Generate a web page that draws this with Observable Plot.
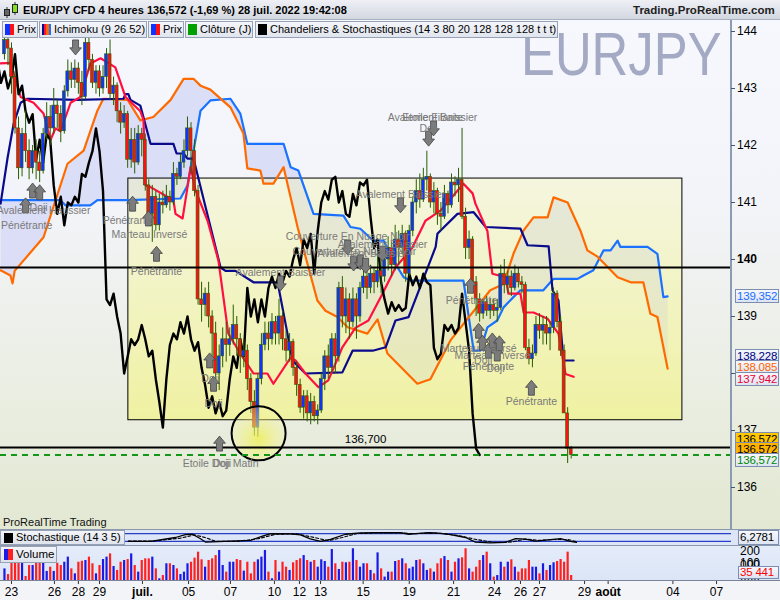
<!DOCTYPE html>
<html><head><meta charset="utf-8">
<script src="https://cdn.jsdelivr.net/npm/d3@7"></script>
<script src="https://cdn.jsdelivr.net/npm/@observablehq/plot@0.6"></script>
<style>
html,body{margin:0;padding:0;background:#fff}
#root{position:relative;width:780px;height:600px;overflow:hidden;font-family:"Liberation Sans",Arial,sans-serif;font-size:12px;color:#000}
.a{position:absolute}
.leg{position:absolute;top:21px;height:17px;border:1px solid #98a2b6;background:linear-gradient(#f4f6fa,#e1e5ee);font-size:11px;line-height:15px;padding:0 1px 0 2px;white-space:nowrap;box-sizing:border-box}
.ic{display:inline-block;width:9px;height:11px;vertical-align:-2px;margin-right:3px}
.vb{position:absolute;left:735px;width:44px;height:14px;box-sizing:border-box;border:1px solid #7d8db0;background:linear-gradient(#f6f8fd,#dde4f2);font-size:11.5px;line-height:12px;padding-left:1px;white-space:nowrap;overflow:hidden;letter-spacing:-0.2px}
.tk{position:absolute;left:737px;font-size:12px;line-height:14px;white-space:nowrap}
.tm{position:absolute;left:731px;width:4px;height:1px;background:#44557a}
</style></head>
<body><div id="root"></div>
<script>
// ---------------- DATA ----------------
const firstBar = -2; // bar index of first visible 4h candle (23 June = bar 0)
const candleOpen = [143.6,143.85,143.7,143.2,142.3,141.6,142.2,141.9,141.6,141.9,141.7,141.55,142.2,142.5,142.3,142.7,142.55,142.25,142.95,143.3,143.15,143.35,143.1,142.85,143.8,143.5,143.1,143.3,143.0,143.2,143.6,142.9,143.05,142.6,142.4,142.55,141.75,142.1,141.7,142.2,142.1,141.3,140.8,141.1,140.6,141.0,140.95,141.1,141.0,141.5,141.45,141.7,141.9,142.3,141.9,141.2,139.3,139.2,139.4,139.0,138.7,138.0,138.3,138.6,138.5,138.6,138.85,138.6,138.3,138.4,137.9,137.5,137.05,137.9,138.5,138.7,138.6,138.9,138.7,139.0,138.6,138.4,138.55,138.1,137.8,137.4,137.6,137.3,137.5,137.25,137.35,137.9,138.3,138.1,138.6,138.3,139.5,139.0,139.3,138.9,139.3,139.0,139.5,139.7,139.5,139.75,139.6,139.8,139.7,140.0,140.2,139.9,140.35,140.2,140.45,139.75,140.5,141.0,141.2,141.05,141.4,141.45,141.0,141.2,140.8,140.75,141.15,140.95,141.35,141.3,141.4,140.75,140.2,140.35,139.6,139.3,139.05,139.25,139.1,139.2,139.1,139.15,139.75,139.55,139.7,139.5,139.75,139.6,139.55,138.45,138.25,138.35,138.85,138.75,138.85,138.7,138.8,139.4,138.9,138.4,137.3,136.68];
const candleHigh = [144.0,144.1,143.8,143.3,142.5,142.3,142.6,142.1,142.0,142.1,141.9,142.3,142.75,142.7,143.0,142.8,142.7,143.05,143.5,143.45,143.5,143.45,143.3,143.9,143.95,143.6,143.4,143.4,143.4,143.7,143.85,143.2,143.1,142.75,142.7,142.6,142.3,142.3,142.35,142.3,142.2,141.4,141.3,141.2,141.15,141.2,141.3,141.2,141.7,141.6,141.85,142.1,142.5,142.4,142.1,141.3,139.6,139.5,139.6,139.1,138.9,138.5,138.8,138.9,138.8,139.2,139.0,138.7,138.6,138.5,138.0,137.7,138.0,138.7,138.9,138.9,139.05,139.0,139.3,139.1,138.75,138.7,138.6,138.2,137.9,137.7,137.7,137.65,137.6,137.45,138.0,138.4,138.5,138.7,138.7,139.6,139.7,139.5,139.4,139.5,139.4,139.6,139.85,139.8,139.9,139.85,140.1,140.0,140.2,140.4,140.3,140.6,140.5,140.6,140.5,140.6,141.1,141.4,141.5,141.6,141.9,141.5,141.35,141.25,141.0,141.3,141.2,141.5,141.45,141.6,142.3,140.9,140.5,140.4,139.7,139.4,139.3,139.35,139.3,139.3,139.3,139.9,140.0,139.8,139.8,139.9,139.85,139.7,139.6,138.6,138.5,139.0,139.05,139.0,139.0,138.9,139.5,139.45,139.0,138.5,137.4,136.72];
const candleLow = [143.5,143.4,142.9,142.2,141.4,141.45,141.7,141.4,141.5,141.4,141.35,141.5,142.1,142.0,142.2,142.3,142.05,142.2,142.85,143.0,143.0,142.9,142.7,142.8,143.3,143.0,142.9,142.85,142.9,143.0,142.8,142.7,142.4,142.2,142.3,141.6,141.6,141.5,141.65,141.8,141.2,140.6,140.3,140.5,140.5,140.8,140.9,140.85,140.95,141.3,141.4,141.6,141.8,141.5,141.1,139.2,138.9,139.0,138.8,138.3,137.8,137.7,138.1,138.2,138.3,138.5,138.3,138.0,138.1,137.7,137.3,136.9,136.88,137.8,138.4,138.4,138.5,138.5,138.5,138.4,138.2,138.2,137.95,137.6,137.3,137.2,137.15,137.1,137.15,137.1,137.3,137.7,137.9,138.0,138.0,138.2,138.8,138.7,138.6,138.8,138.6,138.9,139.4,139.3,139.4,139.4,139.5,139.4,139.6,139.8,139.7,139.8,139.9,140.1,139.6,139.7,140.4,140.8,140.9,141.0,141.2,140.9,140.8,140.6,140.5,140.7,140.8,140.9,141.1,141.0,140.7,140.0,140.0,139.4,139.0,138.9,138.95,139.0,138.95,139.0,138.9,139.1,139.4,139.4,139.35,139.45,139.5,139.4,138.4,138.15,138.1,138.3,138.6,138.5,138.5,138.4,138.7,138.8,138.3,137.3,136.42,136.5];
const candleClose = [143.85,143.7,143.2,142.3,141.6,142.2,141.9,141.6,141.9,141.7,141.55,142.2,142.5,142.3,142.7,142.55,142.25,142.95,143.3,143.15,143.35,143.1,142.85,143.8,143.5,143.1,143.3,143.0,143.2,143.6,142.9,143.05,142.6,142.4,142.55,141.75,142.1,141.7,142.2,142.1,141.3,140.8,141.1,140.6,141.0,140.95,141.1,141.0,141.5,141.45,141.7,141.9,142.3,141.9,141.2,139.3,139.2,139.4,139.0,138.7,138.0,138.3,138.6,138.5,138.6,138.85,138.6,138.3,138.4,137.9,137.5,137.05,137.9,138.5,138.7,138.6,138.9,138.7,139.0,138.6,138.4,138.55,138.1,137.8,137.4,137.6,137.3,137.5,137.25,137.35,137.9,138.3,138.1,138.6,138.3,139.5,139.0,139.3,138.9,139.3,139.0,139.5,139.7,139.5,139.75,139.6,139.8,139.7,140.0,140.2,139.9,140.35,140.2,140.45,139.75,140.5,141.0,141.2,141.05,141.4,141.45,141.0,141.2,140.8,140.75,141.15,140.95,141.35,141.3,141.4,140.75,140.2,140.35,139.6,139.3,139.05,139.25,139.1,139.2,139.1,139.15,139.75,139.55,139.7,139.5,139.75,139.6,139.55,138.45,138.25,138.35,138.85,138.75,138.85,138.7,138.8,139.4,138.9,138.4,137.3,136.68,136.572];
const volumeK = [82,42,188,134,188,129,28,106,106,129,188,125,64,94,64,122,106,129,165,82,47,129,136,141,165,118,47,106,148,165,188,99,71,129,141,148,188,106,59,141,153,153,165,82,12,35,118,118,106,82,42,59,118,129,158,200,146,94,141,153,176,212,106,59,129,129,148,141,66,129,47,129,146,165,212,59,12,141,59,129,94,71,125,141,153,176,141,129,141,94,146,134,94,219,118,78,129,125,129,224,141,94,118,118,71,47,195,82,24,59,59,134,141,153,118,82,94,141,146,118,71,82,59,118,153,169,141,59,129,153,160,224,82,59,94,141,176,200,118,24,35,129,94,129,146,94,59,82,82,141,94,94,47,118,71,106,125,134,148,129,200,35.441];

// Ichimoku (9 26 52) read at bar indexes
const tenkanBar = [-3.1,-0.3,2.6,6.25,9.1,11.1,12.5,13.9,16.8,19.6,22.4,25.3,29.5,32.4,36.6,37.5,38.1,39.5,46,46.6,48.6,50.9,52.3,55.7,58.8,61.6,65,68.75,72.7,74.4,79.3,80.7,83.5,87.2,90,94,97.7,101.4,105.4,109.1,113.9,117.6,120.5,121.9,128.4,131,131.8,135.2,136.6,140.3,141.2,144.6,145.5,148.3,152.3,155.4,157.4,159.7];
const tenkanVal = [143.44,143.45,142.85,142.75,142.56,142.1,142.3,142.25,142.75,142.85,143.44,143.53,143.37,142.85,142.6,142.45,141.3,141.27,141.04,140.8,140.72,141.62,141.21,140.68,139.98,138.7,138.35,138.0,138.0,137.82,138.28,138.23,138.0,137.76,137.88,138.46,138.8,138.93,139.4,139.86,140.21,140.68,140.8,140.86,141.33,141.16,140.98,140.5,139.75,139.69,139.4,139.4,139.07,139.07,138.96,138.7,137.99,137.942];
const kijunBar = [-3.1,-1.1,0.6,2.6,4.5,18.75,31.8,32.4,33.2,33.8,36.6,39.5,46,46.9,48.9,50,51.7,59.4,60.8,63.6,68.75,75.6,78.4,79.8,83.5,94,96.9,102.6,106.3,109.1,112.8,120.5,121,121.9,126.7,131.3,134.7,144.6,146.6,152.6,153.7,155.4,156.8,159.7];
const kijunVal = [140.98,141.79,142.38,142.75,142.82,142.8,142.82,142.9,142.9,142.8,142.7,142.03,142.03,141.86,141.86,141.77,141.77,139.86,139.8,139.8,139.6,139.6,138.7,138.23,138.0,138.02,138.4,138.4,138.46,138.93,138.99,140.22,140.45,140.51,140.8,140.83,140.57,140.54,140.25,140.23,139.46,139.28,138.23,138.228];
const spanABar = [-3.1,-0.3,0.3,0.9,9.1,15.9,20.5,24.4,26.1,33,36.6,40.3,45.2,48.9,51.7,53.7,56.5,62.2,65.9,67,70.7,71.6,74.4,77.3,81.3,86.9,89.2,92.6,95.5,101.1,104,106.8,115.3,119,124.7,136,139.8,142.6,145.5,148.3,152.3,154,158,161.6,163.6,166.5,172.2,175.9,179.5,181.5,183.5,186.4];
const spanAVal = [139.81,139.72,139.58,139.8,140.39,141.68,141.91,142.61,142.82,142.8,142.44,142.5,142.8,143.17,143.17,143.05,142.98,142.67,142.21,141.6,141.56,141.33,141.33,141.62,140.56,139.28,139.1,138.99,138.81,138.7,138.95,138.35,137.82,137.9,138.58,139.46,139.57,140.1,140.51,140.74,140.74,141.09,141.0,140.51,140.16,140.05,139.69,139.6,139.6,139.05,138.99,138.085];
const spanBBar = [-3.1,13.9,15.3,22.4,24.4,33,48,50,53.7,56.5,62.2,65,67,77.3,79.3,81.5,85.8,94.3,96.3,99.1,102.8,105.7,109.7,111.4,113.4,128.4,131.3,133.2,135.2,138,139.8,142.6,144.6,151.1,153.1,154,160.8,162.5,165.3,168.2,170.2,172.2,173,180.7,183.5,185.2,186.4];
const spanBVal = [141.04,141.04,140.95,140.95,141.04,141.04,141.07,141.3,142.61,142.79,142.82,142.56,142.03,142.03,141.62,141.56,140.8,140.77,140.57,140.54,140.33,140.33,139.86,139.69,139.63,139.63,138.4,138.4,138.81,138.93,139.16,139.34,139.46,139.46,139.6,139.66,139.66,139.72,139.81,140.16,140.16,140.33,140.22,140.22,140.1,139.34,139.352];
const chikouShift = 26;

// Stochastique (14 3 5)
const stochBars = [33.2,39.5,46.6,49.4,51.4,53.7,55.1,62.2,67.9,71.3,73.6,79.3,82.1,84.9,87.8,90.6,94.9,99.1,103.4,110.5,112.8,114.8,118.5,120.5,124.7,129,131.8,136,140.3,143.2,146,148.9,151.7,156,158.8,160.5];
const stochK = [20,20,50,72,75,40,15,22,28,60,80,78,70,40,20,35,75,85,88,88,75,80,88,85,72,50,15,8,12,42,38,22,30,42,20,12];
const stochDBars = [33.2,40,48,52,55,58,64,70,75,81,86,90,94,98,104,111,114,118,122,127,132,137,142,146,150,154,158,160.5];
const stochD = [22,22,45,70,50,20,20,40,75,78,50,25,50,80,85,85,78,84,82,65,35,12,15,38,28,35,35,18];
const stochLevels = [80, 20];
const stochLast = "6,2781";

// Candlestick pattern annotations
const patternNames = ["Avalement Haussier","Doji","Pénétrante","Pénétrante","Marteau Inversé","Pénétrante","Doji","Doji","Etoile Doji Matin","Doji","Avalement Baissier","Couverture En Nuage Noir","Avalement Baissier","Couverture En Nuage Noir","Avalement Baissier","Avalement Baissier","Avalement Baissier","Etoile Filante","Doji","Pénétrante","Marteau Inversé","Marteau Inversé","Doji","Pénétrante","Doji","Pénétrante"];
const patternBars = [9.1,7.7,4.3,33.2,39.2,41.2,56.5,57.4,59.4,59.8,76.4,95.5,105.4,97.4,99.7,110.5,119.6,119.6,118.5,130.7,132.7,136.6,134,135.5,137.5,147.7];
const patternPrices = [140.86,140.91,140.6,140.68,140.44,139.79,137.91,137.47,136.42,136.42,139.77,140.4,140.26,140.14,140.1,141.14,142.49,142.49,142.3,139.28,138.44,138.32,138.23,138.12,138.09,137.51];
const arrowUpBars = [6,8,4,34.4,38.9,41.2,56.3,57.4,59.1,130.4,132.7,133.8,135.5,136.6,138,138.6,147.7];
const arrowUpPrices = [141.21,141.18,140.95,140.98,140.72,140.1,138.23,137.82,136.77,139.54,138.75,138.54,138.4,138.58,138.35,138.53,137.75];
const arrowDownBars = [18.2,76.4,95.5,97.2,99.1,100.6,105.4,110.5,118.5,119.9];
const arrowDownPrices = [143.72,139.58,140.21,139.93,139.95,139.89,140.1,140.95,142.12,142.3];

// Drawings & levels
const zoneBars = [33.2, 190.6];
const zonePrices = [137.18, 141.42];
const circleBar = 70.2, circlePrice = 136.95;
const resistanceLevel = 139.86;
const supportLevel = 136.7;
const dailyClose = 136.572;

// Axis labels
const priceTicks = [144,143,142,141,140,139,138,137,136];
const xTickLabels = ["23","26","28","29","juil.","05","07","10","12","13","15","19","21","24","26","27","29","août","04","07"];
const xTickBars = [0,12.2,19,25,37.2,50.3,62.2,74.7,81.8,87.8,99.9,113,125.6,137.2,144.6,150,162.8,169.5,187.9,200.3];
const xBoldLabels = ["juil.","août"];
const lastValues = [139.352,138.228,138.085,137.942,136.572,136.572,136.572];
const lastColors = ["#1a6cff","#000080","#ff6600","#ee0033","#000","#000","#008800"];

// ---------------- BUILD ----------------
const root = document.getElementById("root");
function div(cls, css, html){const d=document.createElement("div");if(cls)d.className=cls;d.style.cssText=css;if(html!=null)d.innerHTML=html;root.appendChild(d);return d;}
const zip = (xs, ys) => xs.map((x,k)=>({x, y: ys[k]}));
const bars = candleOpen.map((o,k)=>({i: firstBar+k, o, h: candleHigh[k], l: candleLow[k], c: candleClose[k], v: volumeK[k]}));
const up = d => d.c >= d.o;
const fmtP = v => d3.format(".3f")(v).replace(".", ",");
const xDom = [-3.125, 204.55];
const FONT = "Liberation Sans, Arial, sans-serif";

// backgrounds
div("a","left:0;top:20px;width:780px;height:509px;background:linear-gradient(#f6f8fe 0%,#f2f4f9 35%,#ebeee3 72%,#e2e8d2 100%)");
div("a","left:521px;top:23px;font-size:62px;line-height:62px;color:#a4a9c4;transform:scaleX(0.82);transform-origin:0 0;white-space:nowrap","EURJPY");

const spanA = zip(spanABar, spanAVal), spanB = zip(spanBBar, spanBVal);
const cloudPoly = spanA.concat(spanB.slice().reverse());

const upArrow = {draw(ctx, size){const s=Math.sqrt(size/Math.PI);ctx.moveTo(0,-s);ctx.lineTo(0.78*s,-0.05*s);ctx.lineTo(0.4*s,-0.05*s);ctx.lineTo(0.4*s,s);ctx.lineTo(-0.4*s,s);ctx.lineTo(-0.4*s,-0.05*s);ctx.lineTo(-0.78*s,-0.05*s);ctx.closePath();}};
const downArrow = {draw(ctx, size){const s=Math.sqrt(size/Math.PI);ctx.moveTo(0,s);ctx.lineTo(0.78*s,0.05*s);ctx.lineTo(0.4*s,0.05*s);ctx.lineTo(0.4*s,-s);ctx.lineTo(-0.4*s,-s);ctx.lineTo(-0.4*s,0.05*s);ctx.lineTo(-0.78*s,0.05*s);ctx.closePath();}};

const patterns = patternNames.map((t,k)=>({t, x: patternBars[k], y: patternPrices[k]}));
const ups = zip(arrowUpBars, arrowUpPrices), downs = zip(arrowDownBars, arrowDownPrices);

const price = Plot.plot({
  width: 780, height: 509, marginLeft: 0, marginRight: 49, marginTop: 0, marginBottom: 0,
  x: {domain: xDom, axis: null},
  y: {domain: [135.263, 144.193], axis: null},
  color: {type: "identity"},
  style: {background: "transparent", fontFamily: FONT},
  marks: [
    Plot.line(cloudPoly, {x: "x", y: "y", fill: "#d8dbf6", fillOpacity: 0.9, stroke: "none"}),
    Plot.rect([0], {x1: () => zoneBars[0], x2: () => zoneBars[1], y1: () => zonePrices[0], y2: () => zonePrices[1], fill: "url(#boxGrad)", stroke: "#000", strokeWidth: 1}),
    Plot.line(spanB, {x: "x", y: "y", stroke: "#1a72ff", strokeWidth: 2.2}),
    Plot.line(spanA, {x: "x", y: "y", stroke: "#ff6a00", strokeWidth: 2.2}),
    Plot.line(zip(kijunBar, kijunVal), {x: "x", y: "y", stroke: "#0a0a8c", strokeWidth: 2.2}),
    Plot.line(zip(tenkanBar, tenkanVal), {x: "x", y: "y", stroke: "#ff1040", strokeWidth: 2.2}),
    Plot.line(bars.filter(d => d.i - chikouShift >= -4), {x: d => d.i - chikouShift, y: "c", stroke: "#000", strokeWidth: 2.4, clip: true}),
    Plot.ruleX(bars, {x: "i", y1: "l", y2: "h", stroke: "#2b5e00", strokeWidth: 1}),
    Plot.rect(bars, {x1: d => d.i - 0.42, x2: d => d.i + 0.42, y1: d => Math.min(d.o, d.c), y2: d => Math.max(d.o, d.c), fill: d => up(d) ? "#1133ff" : "#ff1111", stroke: "#2b5e00", strokeWidth: 0.6}),
    Plot.dot([0], {x: () => circleBar, y: () => circlePrice, r: 27, fill: "url(#circGrad)", stroke: "#000", strokeWidth: 2}),
    Plot.ruleY([resistanceLevel], {stroke: "#000", strokeWidth: 2}),
    Plot.ruleY([supportLevel], {stroke: "#000", strokeWidth: 2}),
    Plot.ruleY([dailyClose], {stroke: "#169616", strokeWidth: 2, strokeDasharray: "6,5"}),
    Plot.text([supportLevel], {x: () => 100.6, y: d => d, text: d => fmtP(d), dy: -8, fontSize: 11.5, fill: "#000"}),
    Plot.dot(ups, {x: "x", y: "y", symbol: upArrow, r: 7.5, fill: "#7c7c7c", stroke: "#444", strokeWidth: 0.8}),
    Plot.dot(downs, {x: "x", y: "y", symbol: downArrow, r: 7.5, fill: "#7c7c7c", stroke: "#444", strokeWidth: 0.8}),
    Plot.text(patterns, {x: "x", y: "y", text: "t", fill: "#7a7a7a", fontSize: 10.5})
  ]
});
const priceSvg = price.tagName.toLowerCase() === "svg" ? price : price.querySelector("svg");
{
  const defs = d3.select(priceSvg).insert("defs", ":first-child");
  const g = defs.append("linearGradient").attr("id", "boxGrad").attr("x1", 0).attr("y1", 0).attr("x2", 0).attr("y2", 1);
  g.append("stop").attr("offset", "0%").attr("stop-color", "rgb(248,248,170)").attr("stop-opacity", 0.35);
  g.append("stop").attr("offset", "100%").attr("stop-color", "rgb(246,246,100)").attr("stop-opacity", 0.5);
  const r = defs.append("radialGradient").attr("id", "circGrad").attr("cx", "50%").attr("cy", "60%").attr("r", "55%");
  r.append("stop").attr("offset", "0%").attr("stop-color", "rgb(240,240,70)").attr("stop-opacity", 0.75);
  r.append("stop").attr("offset", "100%").attr("stop-color", "rgb(245,245,170)").attr("stop-opacity", 0.3);
}
price.style.position = "absolute"; price.style.left = "0px"; price.style.top = "20px";
root.appendChild(price);

// right price axis (HTML from the plot's y scale)
const ys = price.scale("y"); const yF = d3.scaleLinear(ys.domain, ys.range);
div("a","left:730px;top:20px;width:2px;height:560px;background:#8b9bb3");
priceTicks.forEach(v => {
  const y = 20 + yF(v);
  div("tm", `top:${y}px`);
  div("tk", `top:${y - 7}px;${v === 140 ? "font-weight:bold" : ""}`, String(v));
});
const boxShift = [0, -4, -1, 3, -15, -5, 6];
lastValues.forEach((v, k) => {
  const cy = 20 + yF(v) + boxShift[k];
  const bg = k === 4 ? "background:#ffc800;" : k === 5 ? "background:#ffb400;" : "";
  div("vb", `top:${cy - 7}px;color:${lastColors[k]};${bg}`, fmtP(v));
});
div("a","left:3px;top:516px;font-size:11px;color:#111","ProRealTime Trading");

// stochastic panel
div("a","left:0;top:529px;width:780px;height:16px;background:#dde6f7;border-top:1px solid #8c98ae;box-sizing:border-box");
const stoch = Plot.plot({
  width: 780, height: 16, marginLeft: 0, marginRight: 49, marginTop: 1.5, marginBottom: 1.5,
  x: {domain: xDom, axis: null}, y: {domain: [0, 100], axis: null},
  style: {background: "transparent"},
  marks: [
    Plot.ruleY(stochLevels, {stroke: "#2a3fc8", strokeWidth: 1.3}),
    Plot.line(zip(stochDBars, stochD), {x: "x", y: "y", stroke: "#000", strokeWidth: 1.1, strokeDasharray: "3,2"}),
    Plot.line(zip(stochBars, stochK), {x: "x", y: "y", stroke: "#000", strokeWidth: 1.3})
  ]
});
stoch.style.position = "absolute"; stoch.style.left = "0px"; stoch.style.top = "529px";
root.appendChild(stoch);
div("a","left:0;top:530px;width:125px;height:15px;border:1px solid #98a2b6;box-sizing:border-box;background:linear-gradient(#f3f5f9,#dfe3ec);font-size:11px;line-height:13px;padding-left:3px;white-space:nowrap",'<span class="ic" style="background:#000;height:10px"></span>Stochastique (14 3 5)');
div("vb","left:738px;width:41px;top:530px;height:15px;line-height:13px", stochLast);

// volume panel
div("a","left:0;top:545px;width:780px;height:35px;background:linear-gradient(#e4ecfa,#dce5f6);border-top:1px solid #8c98ae;box-sizing:border-box");
const vol = Plot.plot({
  width: 780, height: 34, marginLeft: 0, marginRight: 49, marginTop: 0, marginBottom: 0,
  x: {domain: xDom, axis: null}, y: {domain: [0, 240], axis: null},
  color: {type: "identity"},
  style: {background: "transparent"},
  marks: [
    Plot.ruleX(bars, {x: "i", y1: 0, y2: "v", stroke: d => up(d) ? "#1a1ae6" : "#ff2020", strokeWidth: 2.2})
  ]
});
vol.style.position = "absolute"; vol.style.left = "0px"; vol.style.top = "546px";
root.appendChild(vol);
div("a","left:0;top:546px;width:57px;height:17px;border:1px solid #98a2b6;box-sizing:border-box;background:linear-gradient(#f3f5f9,#dfe3ec);font-size:11.5px;line-height:15px;padding-left:3px;white-space:nowrap",'<span class="ic" style="background:linear-gradient(90deg,#1a1ae6 50%,#ff2020 50%)"></span>Volume');
div("a","left:740px;top:544px;font-size:12px;line-height:14px","200 000");
div("a","left:740px;top:556px;font-size:12px;line-height:14px","100 000");
const lastVol = volumeK[volumeK.length - 1] * 1000;
div("vb",`left:738px;width:41px;top:566px;height:13px;line-height:11px;color:#ff0000`, d3.format(",.0f")(lastVol).replace(/,/g, " "));

// x axis
div("a","left:0;top:580px;width:780px;height:20px;background:#f3f4f7;border-top:1px solid #7a8499;box-sizing:border-box");
const xticks = xTickLabels.map((t,k)=>({t, x: xTickBars[k]}));
const xax = Plot.plot({
  width: 780, height: 19, marginLeft: 0, marginRight: 49, marginTop: 0, marginBottom: 0,
  x: {domain: xDom, axis: null}, y: {domain: [0, 1], axis: null},
  style: {background: "transparent", fontFamily: FONT},
  marks: [
    Plot.ruleX(xticks, {x: "x", y1: 1, y2: 0.84, stroke: "#333", strokeWidth: 1}),
    Plot.text(xticks.filter(d => !xBoldLabels.includes(d.t)), {x: "x", text: "t", fontSize: 12, fill: "#000", dy: 1}),
    Plot.text(xticks.filter(d => xBoldLabels.includes(d.t)), {x: "x", text: "t", fontSize: 12, fontWeight: "bold", fill: "#000", dy: 1})
  ]
});
xax.style.position = "absolute"; xax.style.left = "0px"; xax.style.top = "581px";
root.appendChild(xax);

// header
div("a","left:0;top:0;width:780px;height:20px;background:linear-gradient(#eef0f5,#d3d7e0);border-bottom:1px solid #a9b0bf;box-sizing:border-box");
div("a","left:2px;top:1px;width:18px;height:18px",'<svg width="18" height="18"><line x1="5" y1="6" x2="5" y2="17" stroke="#333"/><rect x="2.5" y="8.5" width="5" height="6" fill="#666" stroke="#222"/><line x1="13" y1="1" x2="13" y2="14" stroke="#333"/><rect x="10.5" y="3.5" width="5" height="8" fill="#88dd22" stroke="#222"/></svg>');
div("a","left:23px;top:3px;font-size:11px;font-weight:bold;line-height:14px;white-space:nowrap","EUR/JPY CFD 4 heures 136,572 (-1,69 %) 28 juil. 2022 19:42:08");
div("a","left:633px;top:3px;font-size:11.5px;font-weight:bold;line-height:14px;white-space:nowrap;color:#222","Trading.ProRealTime.com");
div("leg","left:2px",'<span class="ic" style="background:linear-gradient(90deg,#1133ff 50%,#ff1111 50%)"></span>Prix');
div("leg","left:39px",'<span class="ic" style="background:linear-gradient(90deg,#0a0a8c 25%,#ff1040 25%,#ff1040 50%,#ff6a00 50%,#ff6a00 75%,#1a72ff 75%)"></span>Ichimoku (9 26 52)');
div("leg","left:148px",'<span class="ic" style="background:linear-gradient(90deg,#1133ff 50%,#ff1111 50%)"></span>Prix');
div("leg","left:185px",'<span class="ic" style="background:#00a000"></span>Clôture (J)');
div("leg","left:255px",'<span class="ic" style="background:#000"></span>Chandeliers &amp; Stochastiques (14 3 80 20 128 128 128 t t t)');
</script></body></html>
